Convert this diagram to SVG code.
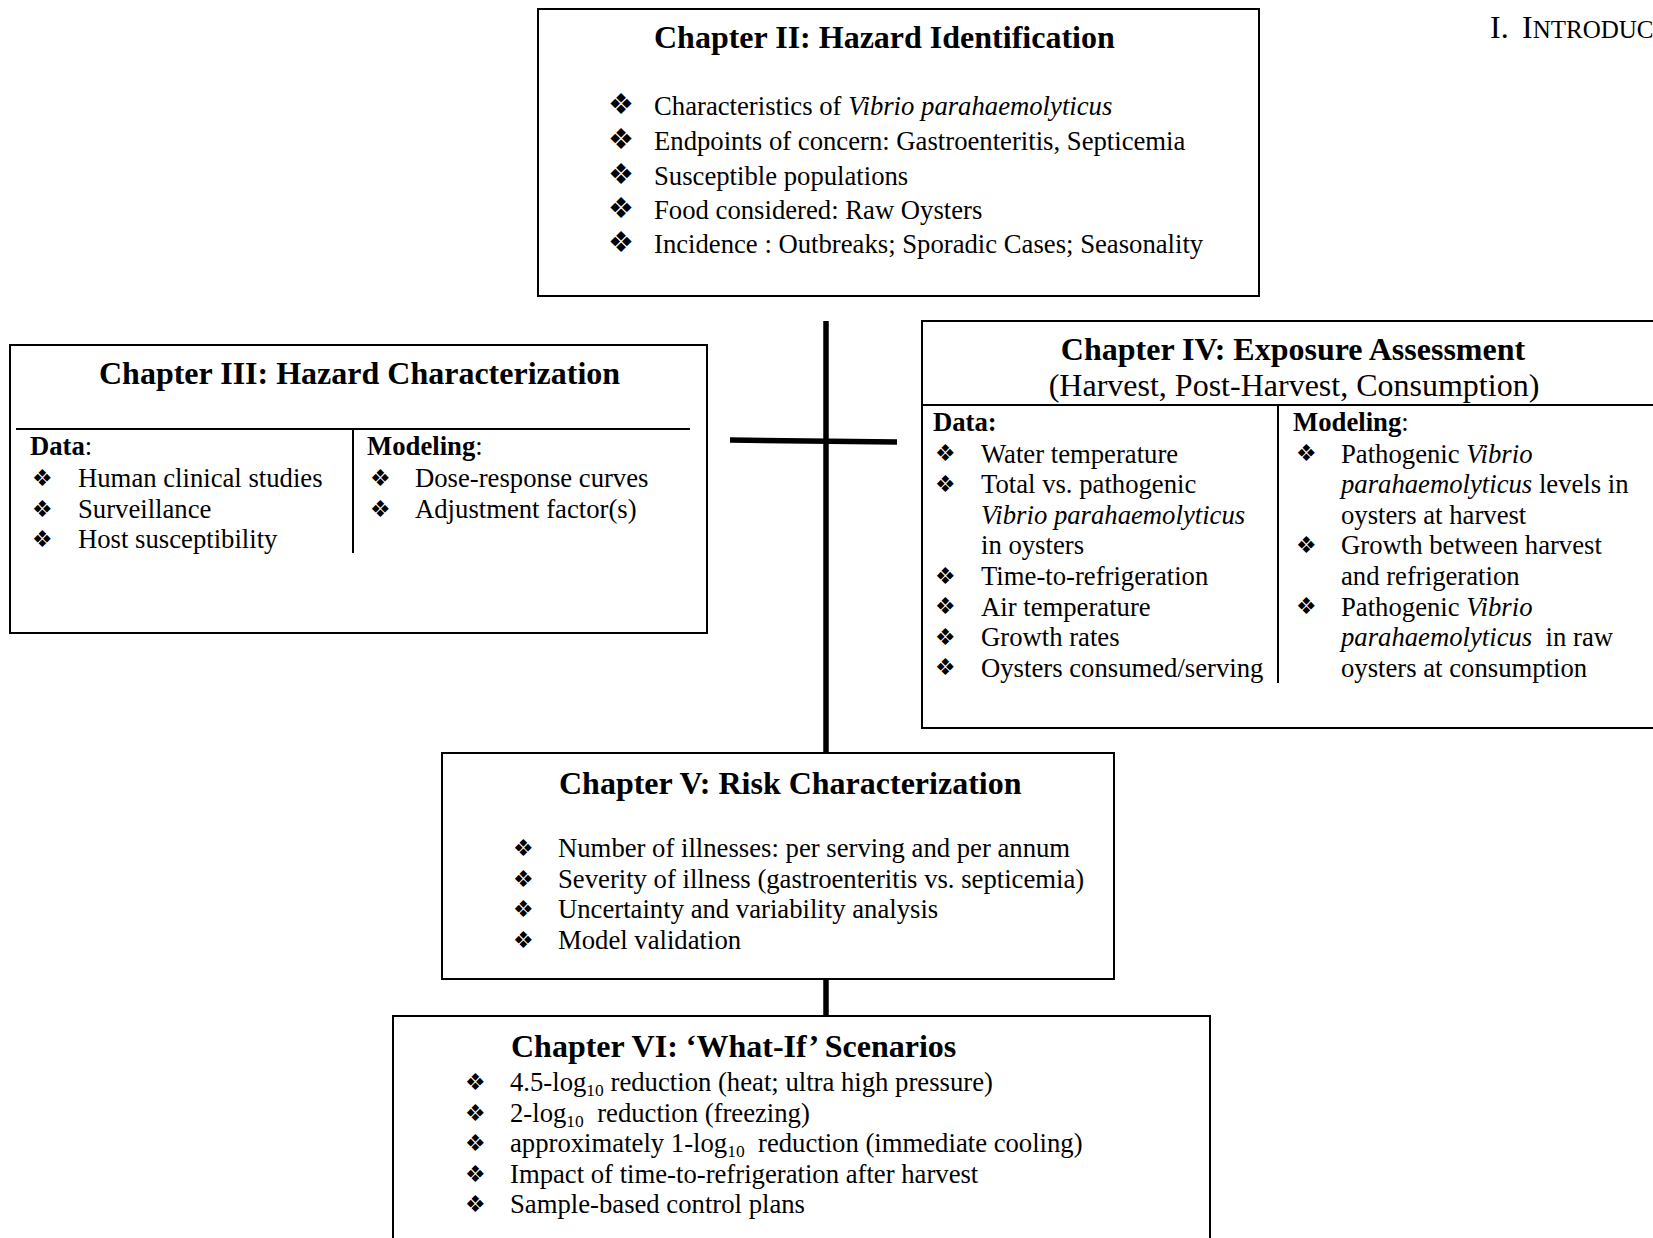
<svg xmlns="http://www.w3.org/2000/svg" width="1653" height="1238" viewBox="0 0 1653 1238">
  <style>
    .box { fill: #fff; stroke: #000; stroke-width: 2; }
    .rule { stroke: #000; stroke-width: 2; fill: none; }
    .conn { stroke: #000; stroke-width: 5.5; fill: none; }
    text { font-family: "Liberation Serif", "Times New Roman", serif; fill: #000; }
    .title { font-size: 32px; font-weight: bold; }
    .sub { font-size: 32px; }
    .body { font-size: 26.7px; }
    .hd { font-size: 26.7px; font-weight: bold; }
    .blt { font-family: "DejaVu Sans", sans-serif; font-size: 23px; }
    .blt-lg { font-family: "DejaVu Sans", sans-serif; font-size: 29px; }
    .it { font-style: italic; }
    .s10 { font-size: 17.5px; }
  </style>

  <rect width="1653" height="1238" fill="#fff"/>

  <!-- running header -->
  <text x="1490" y="38" font-size="32">I.</text>
  <text x="1522" y="38"><tspan font-size="32">I</tspan><tspan font-size="25">NTRODUC</tspan></text>

  <!-- connectors -->
  <g id="connectors">
    <line class="conn" x1="826" y1="321" x2="826" y2="753"/>
    <line class="conn" x1="730" y1="440" x2="897" y2="442"/>
    <line class="conn" x1="826" y1="979" x2="826" y2="1016"/>
  </g>

  <!-- Chapter II -->
  <g id="ch2">
    <rect class="box" x="538" y="9" width="721" height="287"/>
    <text class="title" x="654" y="48">Chapter II: Hazard Identification</text>
    <g class="blt-lg">
      <text x="608" y="114">❖</text>
      <text x="608" y="149">❖</text>
      <text x="608" y="183.5">❖</text>
      <text x="608" y="217.5">❖</text>
      <text x="608" y="252">❖</text>
    </g>
    <g class="body">
      <text x="654" y="115">Characteristics of <tspan class="it">Vibrio parahaemolyticus</tspan></text>
      <text x="654" y="150">Endpoints of concern: Gastroenteritis, Septicemia</text>
      <text x="654" y="184.5">Susceptible populations</text>
      <text x="654" y="218.5">Food considered: Raw Oysters</text>
      <text x="654" y="253">Incidence : Outbreaks; Sporadic Cases; Seasonality</text>
    </g>
  </g>

  <!-- Chapter III -->
  <g id="ch3">
    <rect class="box" x="10" y="345" width="697" height="288"/>
    <text class="title" x="99" y="384">Chapter III: Hazard Characterization</text>
    <line class="rule" x1="16" y1="429" x2="690" y2="429"/>
    <line class="rule" x1="353" y1="429" x2="353" y2="553"/>
    <text class="body" x="30" y="455"><tspan font-weight="bold">Data</tspan>:</text>
    <text class="body" x="367" y="455"><tspan font-weight="bold">Modeling</tspan>:</text>
    <g class="blt">
      <text x="32" y="486">❖</text>
      <text x="32" y="516.5">❖</text>
      <text x="32" y="547">❖</text>
      <text x="370" y="486">❖</text>
      <text x="370" y="516.5">❖</text>
    </g>
    <g class="body">
      <text x="78" y="487">Human clinical studies</text>
      <text x="78" y="517.5">Surveillance</text>
      <text x="78" y="548">Host susceptibility</text>
      <text x="415" y="487">Dose-response curves</text>
      <text x="415" y="517.5">Adjustment factor(s)</text>
    </g>
  </g>

  <!-- Chapter IV -->
  <g id="ch4">
    <rect class="box" x="922" y="321" width="745" height="407"/>
    <text class="title" x="1293" y="360" text-anchor="middle">Chapter IV: Exposure Assessment</text>
    <text class="sub" x="1294" y="396" text-anchor="middle">(Harvest, Post-Harvest, Consumption)</text>
    <line class="rule" x1="922" y1="405" x2="1653" y2="405"/>
    <line class="rule" x1="1278" y1="405" x2="1278" y2="683"/>
    <text class="hd" x="933" y="431">Data:</text>
    <text class="body" x="1293" y="431"><tspan font-weight="bold">Modeling</tspan>:</text>
    <g class="blt">
      <text x="935" y="461">❖</text>
      <text x="935" y="491.5">❖</text>
      <text x="935" y="583.5">❖</text>
      <text x="935" y="614">❖</text>
      <text x="935" y="644.5">❖</text>
      <text x="935" y="675">❖</text>
      <text x="1296" y="461">❖</text>
      <text x="1296" y="552.5">❖</text>
      <text x="1296" y="614">❖</text>
    </g>
    <g class="body">
      <text x="981" y="462.5">Water temperature</text>
      <text x="981" y="493">Total vs. pathogenic</text>
      <text x="981" y="523.5" class="it">Vibrio parahaemolyticus</text>
      <text x="981" y="554">in oysters</text>
      <text x="981" y="585">Time-to-refrigeration</text>
      <text x="981" y="615.5">Air temperature</text>
      <text x="981" y="646">Growth rates</text>
      <text x="981" y="676.5">Oysters consumed/serving</text>
      <text x="1341" y="462.5">Pathogenic <tspan class="it">Vibrio</tspan></text>
      <text x="1341" y="493"><tspan class="it">parahaemolyticus</tspan> levels in</text>
      <text x="1341" y="523.5">oysters at harvest</text>
      <text x="1341" y="554">Growth between harvest</text>
      <text x="1341" y="585">and refrigeration</text>
      <text x="1341" y="615.5">Pathogenic <tspan class="it">Vibrio</tspan></text>
      <text x="1341" y="646" xml:space="preserve"><tspan class="it">parahaemolyticus</tspan>  in raw</text>
      <text x="1341" y="676.5">oysters at consumption</text>
    </g>
  </g>

  <!-- Chapter V -->
  <g id="ch5">
    <rect class="box" x="442" y="753" width="672" height="226"/>
    <text class="title" x="559" y="794">Chapter V: Risk Characterization</text>
    <g class="blt">
      <text x="513" y="856">❖</text>
      <text x="513" y="886.5">❖</text>
      <text x="513" y="917">❖</text>
      <text x="513" y="947.5">❖</text>
    </g>
    <g class="body">
      <text x="558" y="857">Number of illnesses: per serving and per annum</text>
      <text x="558" y="887.5">Severity of illness (gastroenteritis vs. septicemia)</text>
      <text x="558" y="918">Uncertainty and variability analysis</text>
      <text x="558" y="948.5">Model validation</text>
    </g>
  </g>

  <!-- Chapter VI -->
  <g id="ch6">
    <rect class="box" x="393" y="1016" width="817" height="240"/>
    <text class="title" x="511" y="1057">Chapter VI: ‘What-If’ Scenarios</text>
    <g class="blt">
      <text x="465" y="1090">❖</text>
      <text x="465" y="1120.5">❖</text>
      <text x="465" y="1151">❖</text>
      <text x="465" y="1181.5">❖</text>
      <text x="465" y="1212">❖</text>
    </g>
    <g class="body">
      <text x="510" y="1091">4.5-log<tspan class="s10" dy="5">10</tspan><tspan dy="-5"> reduction (heat; ultra high pressure)</tspan></text>
      <text x="510" y="1121.5" xml:space="preserve">2-log<tspan class="s10" dy="5">10</tspan><tspan dy="-5">  reduction (freezing)</tspan></text>
      <text x="510" y="1152" xml:space="preserve">approximately 1-log<tspan class="s10" dy="5">10</tspan><tspan dy="-5">  reduction (immediate cooling)</tspan></text>
      <text x="510" y="1182.5">Impact of time-to-refrigeration after harvest</text>
      <text x="510" y="1213">Sample-based control plans</text>
    </g>
  </g>
</svg>
